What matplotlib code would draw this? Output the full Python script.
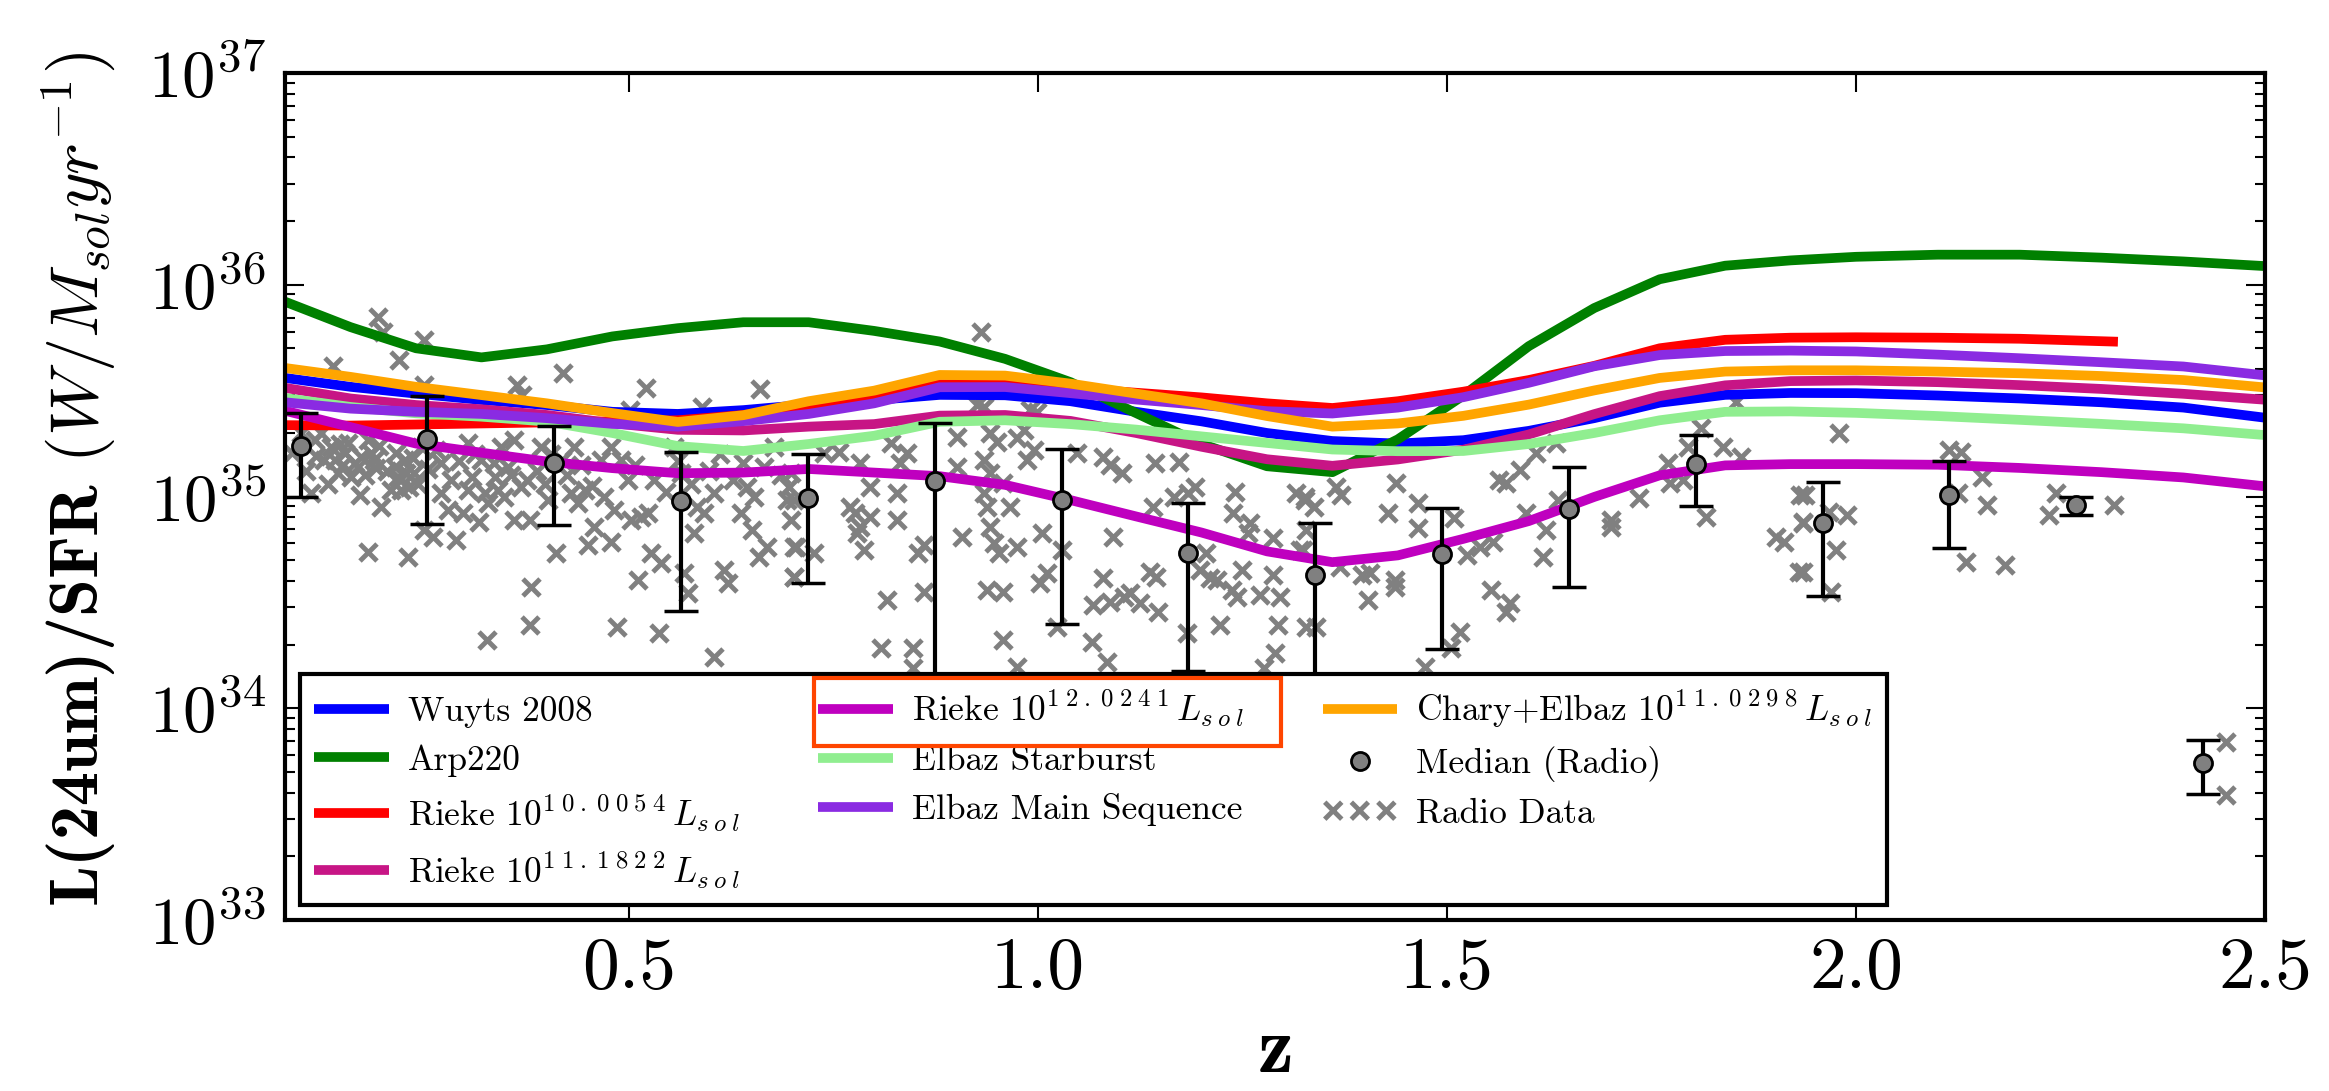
import numpy as np
import matplotlib
matplotlib.use("Agg")
import matplotlib.pyplot as plt
from matplotlib.patches import Rectangle
from matplotlib.ticker import FormatStrFormatter

plt.rcParams["font.family"] = "serif"
plt.rcParams["font.serif"] = ["cmr10"]
plt.rcParams["mathtext.fontset"] = "cm"
plt.rcParams["axes.unicode_minus"] = False
plt.rcParams["axes.formatter.use_mathtext"] = True

# redshift grid the template curves are sampled on
z_grid = [0.08, 0.16, 0.24, 0.32, 0.40, 0.48, 0.56, 0.64, 0.72, 0.80,
          0.88, 0.96, 1.04, 1.12, 1.20, 1.28, 1.36, 1.44, 1.52, 1.60,
          1.68, 1.76, 1.84, 1.92, 2.00, 2.10, 2.20, 2.30, 2.40, 2.50]

# log10 L(24um)/SFR for each template
wuyts = [35.56, 35.518, 35.486, 35.456, 35.432, 35.40, 35.39, 35.408, 35.435, 35.455,
         35.48, 35.478, 35.45, 35.40, 35.355, 35.30, 35.262, 35.25, 35.266, 35.31,
         35.37, 35.443, 35.48, 35.489, 35.488, 35.477, 35.463, 35.445, 35.42, 35.372]
arp220 = [35.92, 35.80, 35.70, 35.657, 35.695, 35.756, 35.795, 35.823, 35.823, 35.782,
          35.732, 35.65, 35.54, 35.394, 35.249, 35.143, 35.115, 35.27, 35.477, 35.71,
          35.89, 36.026, 36.09, 36.115, 36.132, 36.142, 36.142, 36.128, 36.11, 36.088]
rieke10_z = [0.08, 0.16, 0.24, 0.32, 0.40, 0.48, 0.56, 0.64, 0.72, 0.80,
             0.88, 0.96, 1.04, 1.12, 1.20, 1.28, 1.36, 1.44, 1.52, 1.60,
             1.68, 1.76, 1.84, 1.92, 2.00, 2.10, 2.20, 2.32]
rieke10 = [35.337, 35.335, 35.34, 35.345, 35.35, 35.355, 35.36, 35.385, 35.425, 35.468,
           35.53, 35.53, 35.512, 35.49, 35.468, 35.44, 35.418, 35.45, 35.495, 35.55,
           35.617, 35.70, 35.74, 35.75, 35.752, 35.75, 35.745, 35.731]
rieke11 = [35.513, 35.463, 35.432, 35.412, 35.385, 35.346, 35.315, 35.312, 35.33, 35.342,
           35.382, 35.385, 35.357, 35.30, 35.235, 35.176, 35.145, 35.175, 35.221, 35.293,
           35.389, 35.474, 35.525, 35.545, 35.548, 35.54, 35.526, 35.508, 35.485, 35.457]
rieke12 = [35.405, 35.328, 35.25, 35.207, 35.165, 35.134, 35.11, 35.113, 35.13, 35.113,
           35.096, 35.055, 34.983, 34.906, 34.83, 34.741, 34.69, 34.722, 34.80, 34.884,
           34.998, 35.10, 35.147, 35.153, 35.153, 35.15, 35.135, 35.115, 35.09, 35.048]
elbaz_sb = [35.465, 35.423, 35.393, 35.377, 35.354, 35.30, 35.238, 35.215, 35.248, 35.287,
            35.353, 35.36, 35.342, 35.316, 35.284, 35.253, 35.222, 35.214, 35.215, 35.248,
            35.30, 35.36, 35.40, 35.402, 35.395, 35.38, 35.362, 35.343, 35.322, 35.29]
elbaz_ms = [35.445, 35.415, 35.40, 35.39, 35.37, 35.343, 35.33, 35.356, 35.39, 35.44,
            35.516, 35.517, 35.488, 35.458, 35.432, 35.403, 35.392, 35.42, 35.469, 35.537,
            35.615, 35.668, 35.687, 35.689, 35.685, 35.67, 35.653, 35.634, 35.614, 35.572]
chary = [35.607, 35.565, 35.518, 35.479, 35.44, 35.394, 35.352, 35.384, 35.45, 35.50,
         35.574, 35.571, 35.533, 35.486, 35.44, 35.38, 35.33, 35.345, 35.381, 35.434,
         35.501, 35.56, 35.59, 35.596, 35.596, 35.59, 35.582, 35.569, 35.55, 35.515]

# binned medians of the radio sample (units of 1e35) and their scatter
med_z = [0.099, 0.254, 0.409, 0.564, 0.719, 0.874, 1.029, 1.184,
         1.339, 1.494, 1.649, 1.804, 1.959, 2.114, 2.269, 2.424]
med_val = [1.73, 1.86, 1.445, 0.957, 0.989, 1.183, 0.966, 0.540,
           0.428, 0.535, 0.873, 1.424, 0.753, 1.020, 0.908, 0.0550]
med_err = [0.74, 1.12, 0.71, 0.67, 0.60, 1.04, 0.715, 0.39,
           0.32, 0.345, 0.50, 0.525, 0.415, 0.448, 0.092, 0.0157]

# individual radio sources: (z, log10 L/SFR)
radio_points = [
    (0.193, 35.849), (0.200, 35.778), (0.250, 35.739), (0.219, 35.645), (0.139, 35.616),
    (0.364, 35.527), (0.370, 35.479), (0.420, 35.582), (0.521, 35.511), (0.661, 35.506),
    (0.590, 35.424), (0.501, 35.409), (0.250, 35.527),
    (0.088, 35.204), (0.112, 35.015), (0.124, 35.298), (0.136, 35.235), (0.141, 35.172),
    (0.151, 35.149), (0.161, 35.094), (0.171, 35.007), (0.157, 35.251), (0.173, 35.188),
    (0.181, 35.267), (0.189, 35.172), (0.191, 35.133), (0.197, 34.952), (0.181, 34.740),
    (0.230, 34.716), (0.218, 35.094), (0.222, 35.031), (0.232, 35.047), (0.226, 35.172),
    (0.214, 35.141), (0.238, 35.109), (0.246, 35.235), (0.250, 34.842), (0.261, 34.810),
    (0.271, 35.157), (0.279, 34.936), (0.289, 34.795), (0.297, 34.921), (0.303, 35.251),
    (0.309, 35.094), (0.317, 34.881), (0.324, 35.015), (0.328, 34.968), (0.320, 35.172),
    (0.336, 35.094), (0.344, 35.235), (0.352, 35.141), (0.360, 34.889), (0.360, 35.267),
    (0.368, 35.047), (0.376, 35.078), (0.379, 34.889), (0.381, 34.574), (0.379, 34.393),
    (0.327, 34.322), (0.393, 35.235), (0.401, 34.984), (0.411, 34.732), (0.419, 35.172),
    (0.429, 35.015), (0.438, 34.968), (0.433, 35.235), (0.446, 35.031), (0.450, 34.771),
    (0.458, 34.858), (0.478, 34.787), (0.482, 34.936), (0.486, 34.385), (0.499, 35.078),
    (0.503, 34.889), (0.511, 34.606), (0.515, 34.905), (0.523, 34.921), (0.527, 34.732),
    (0.539, 34.684), (0.531, 35.078), (0.537, 34.354), (0.555, 35.235), (0.564, 35.109),
    (0.568, 34.637), (0.572, 34.543), (0.580, 34.826), (0.584, 34.952), (0.592, 34.921),
    (0.604, 34.244), (0.604, 35.015), (0.616, 34.653), (0.621, 34.590), (0.637, 34.921),
    (0.645, 35.047), (0.653, 34.999), (0.651, 34.842), (0.659, 34.716), (0.669, 34.763),
    (0.678, 35.235), (0.694, 34.984), (0.698, 34.889), (0.702, 34.763), (0.702, 34.621),
    (0.696, 35.047), (0.665, 35.141), (0.466, 35.172), (0.478, 35.235), (0.490, 35.172),
    (0.303, 35.031), (0.340, 35.031), (0.271, 35.015), (0.128, 35.172), (0.145, 35.109),
    (0.216, 35.204), (0.220, 35.078), (0.228, 35.109), (0.153, 35.204), (0.100, 35.298),
    (0.116, 35.267), (0.169, 35.141), (0.185, 35.204),
    (0.105, 35.12), (0.118, 35.19), (0.132, 35.06), (0.147, 35.25), (0.165, 35.16),
    (0.178, 35.10), (0.195, 35.24), (0.205, 35.12), (0.210, 35.03), (0.236, 35.18),
    (0.242, 35.06), (0.255, 35.13), (0.265, 35.22), (0.283, 35.08), (0.293, 35.17),
    (0.312, 35.20), (0.335, 35.16), (0.348, 35.00), (0.356, 35.10), (0.388, 35.12),
    (0.398, 35.06), (0.405, 35.20), (0.425, 35.10), (0.442, 35.15), (0.455, 35.05),
    (0.470, 35.00), (0.508, 35.15), (0.545, 35.02), (0.560, 35.17), (0.576, 35.06),
    (0.598, 35.12), (0.612, 35.20), (0.628, 35.08), (0.640, 35.16), (0.686, 35.10),
    (0.930, 35.778), (0.926, 35.432), (0.934, 35.424), (0.991, 35.409), (0.999, 35.401),
    (0.901, 35.283), (0.942, 35.298), (0.950, 35.259), (0.974, 35.275), (0.983, 35.314),
    (0.987, 35.172), (0.995, 35.220), (1.048, 35.204), (1.080, 35.188), (1.088, 35.149),
    (1.103, 35.109), (1.143, 35.157), (1.172, 35.165), (1.192, 35.047), (1.184, 35.015),
    (1.166, 34.999), (1.141, 34.952), (1.241, 35.023), (1.239, 34.921), (1.259, 34.873),
    (1.257, 34.826), (1.288, 34.803), (1.316, 35.015), (1.326, 34.984), (1.320, 34.747),
    (0.739, 35.204), (0.757, 35.212), (0.783, 35.157), (0.795, 35.047), (0.828, 35.015),
    (0.840, 35.204), (0.832, 35.157), (0.820, 35.251), (0.771, 34.952), (0.777, 34.921),
    (0.783, 34.858), (0.795, 34.905), (0.828, 34.889), (0.787, 34.747), (0.779, 34.826),
    (0.698, 35.109), (0.702, 34.984), (0.704, 34.763), (0.726, 34.732), (0.702, 34.621),
    (0.901, 35.141), (0.934, 35.172), (0.942, 35.109), (0.958, 35.062), (0.966, 34.952),
    (0.934, 35.015), (0.938, 34.952), (0.942, 34.858), (0.946, 34.779), (0.952, 34.732),
    (0.974, 34.763), (0.907, 34.810), (0.861, 34.771), (0.854, 34.732), (1.005, 34.826),
    (1.029, 34.747), (1.011, 34.637), (1.003, 34.590), (0.938, 34.558), (0.958, 34.551),
    (0.861, 34.551), (0.816, 34.511), (0.808, 34.283), (0.848, 34.283), (0.848, 34.189),
    (0.958, 34.322), (0.974, 34.196), (1.023, 34.385), (1.066, 34.314), (1.084, 34.220),
    (1.068, 34.488), (1.080, 34.614), (1.092, 34.810), (1.088, 34.503), (1.105, 34.527),
    (1.113, 34.543), (1.125, 34.496), (1.137, 34.645), (1.145, 34.621), (1.147, 34.456),
    (1.182, 34.354), (1.198, 34.653), (1.206, 34.732), (1.210, 34.614), (1.219, 34.606),
    (1.223, 34.393), (1.237, 34.558), (1.249, 34.653), (1.243, 34.527), (1.271, 34.535),
    (1.288, 34.629), (1.296, 34.527), (1.294, 34.393), (1.290, 34.259), (1.276, 34.189),
    (1.328, 34.385),
    (1.326, 34.999), (1.337, 34.952), (1.365, 35.046), (1.371, 35.007), (1.438, 35.062),
    (1.428, 34.921), (1.465, 34.968), (1.465, 34.850), (1.509, 34.897), (1.328, 34.842),
    (1.324, 34.747), (1.369, 34.669), (1.396, 34.629), (1.406, 34.637), (1.404, 34.511),
    (1.436, 34.606), (1.436, 34.574), (1.524, 34.724), (1.540, 34.763), (1.556, 34.787),
    (1.554, 34.558), (1.577, 34.495), (1.572, 34.456), (1.516, 34.362), (1.505, 34.283),
    (1.473, 34.196), (1.340, 34.385), (1.564, 35.078), (1.572, 35.062), (1.589, 35.125),
    (1.609, 35.204), (1.597, 34.921), (1.621, 34.842), (1.617, 34.716), (1.636, 34.984),
    (1.701, 34.889), (1.701, 34.858), (1.735, 34.991), (1.772, 35.062), (1.770, 35.157),
    (1.788, 35.078), (1.794, 35.235), (1.810, 35.322), (1.837, 35.235), (1.853, 35.448),
    (1.859, 35.188), (1.817, 34.905), (1.932, 35.007), (1.935, 34.873), (1.930, 34.645),
    (1.902, 34.810), (1.912, 34.787), (1.633, 35.251),
    (1.979, 35.298), (2.114, 35.220), (2.128, 35.212), (2.154, 35.094), (2.160, 34.960),
    (1.937, 35.007), (1.935, 34.881), (1.967, 34.928), (1.989, 34.913), (1.975, 34.747),
    (1.935, 34.645), (1.969, 34.551), (2.134, 34.692), (2.182, 34.677), (2.244, 35.015),
    (2.236, 34.913), (2.315, 34.960), (2.124, 35.015), (2.452, 33.843), (2.452, 33.590),
]

radio_z, radio_log = np.array(radio_points).T


def lum_label(prefix, exponent):
    # widen the script digits a little so the legend reads like the TeX output
    sup = r"\;".join(exponent)
    return prefix + r" $10^{" + sup + r"}\,L_{s\;o\;l}$"


fig = plt.figure(figsize=(23.29, 10.91), dpi=100)
ax = fig.add_axes([0.1224, 0.1567, 0.8502, 0.7764])

sc = ax.scatter(radio_z, 10 ** radio_log, marker="x", c="grey", s=150,
                linewidths=3.5, zorder=1)

lw = 7
templates = [
    (z_grid, wuyts, "b", "Wuyts 2008"),
    (z_grid, arp220, "g", "Arp220"),
    (rieke10_z, rieke10, "r", lum_label("Rieke", "10.0054")),
    (z_grid, rieke11, "mediumvioletred", lum_label("Rieke", "11.1822")),
    (z_grid, rieke12, "m", lum_label("Rieke", "12.0241")),
    (z_grid, elbaz_sb, "lightgreen", "Elbaz Starburst"),
    (z_grid, elbaz_ms, "blueviolet", "Elbaz Main Sequence"),
    (z_grid, chary, "orange", lum_label("Chary+Elbaz", "11.0298")),
]
handles = []
for zz, vals, col, lab in templates:
    line, = ax.plot(zz, 10 ** np.array(vals), color=col, lw=lw, label=lab,
                    solid_capstyle="butt", zorder=2)
    handles.append(line)

med = np.array(med_val) * 1e35
err = np.array(med_err) * 1e35
ax.errorbar(med_z, med, yerr=err, fmt="none", ecolor="k", elinewidth=3,
            capsize=12, capthick=2.5, zorder=3)
mline, = ax.plot(med_z, med, "o", color="grey", mec="k", mew=2, ms=13,
                 zorder=4, label="Median (Radio)")
handles.append(mline)
sc.set_label("Radio Data")
handles.append(sc)

ax.set_yscale("log")
ax.set_ylim(1e33, 1e37)
ax.set_xlim(0.08, 2.5)
ax.set_xticks([0.5, 1.0, 1.5, 2.0, 2.5])
ax.xaxis.set_major_formatter(FormatStrFormatter("%.1f"))

ax.tick_params(which="both", direction="in", top=True, right=True)
ax.tick_params(which="major", length=14, width=1.5, labelsize=48, pad=14)
ax.tick_params(axis="x", labelsize=53, pad=12)
ax.tick_params(which="minor", length=7, width=1.5)
for sp in ax.spines.values():
    sp.set_linewidth(3)

ax.set_xlabel("z", fontsize=58, family="cmb10", labelpad=10)
ax.set_ylabel(r"L(24um)/SFR $(W/M_{sol}yr^{-1})$", fontsize=49,
              family="cmb10")
ax.yaxis.set_label_coords(-0.085, 0.52)

leg = ax.legend(handles=handles, loc="lower left",
                bbox_to_anchor=(0.0076, 0.0177), borderaxespad=0, ncol=3,
                fontsize=25.5, numpoints=1, scatterpoints=3,
                scatteryoffsets=[0.5], handlelength=2.1, handletextpad=0.55,
                columnspacing=2.2, labelspacing=0.45, borderpad=0.4,
                fancybox=False, framealpha=1, edgecolor="k")
leg.get_frame().set_linewidth(3)

# highlight box around the Rieke 10^12 entry, placed from the drawn legend
fig.canvas.draw()
renderer = fig.canvas.get_renderer()
hbox = leg.legend_handles[4].get_window_extent(renderer)
tbox = leg.get_texts()[4].get_window_extent(renderer)
fbox = leg.get_frame().get_window_extent(renderer)
W, H = fig.bbox.width, fig.bbox.height
x0 = hbox.x0 - 4
x1 = tbox.x1 + 36
y1 = fbox.y1 - 4
y0 = y1 - 68
fig.add_artist(Rectangle((x0 / W, y0 / H), (x1 - x0) / W, (y1 - y0) / H,
                         transform=fig.transFigure, fill=False,
                         edgecolor="#ff4500", lw=3, zorder=10))

fig.savefig("out.png", dpi=100)
